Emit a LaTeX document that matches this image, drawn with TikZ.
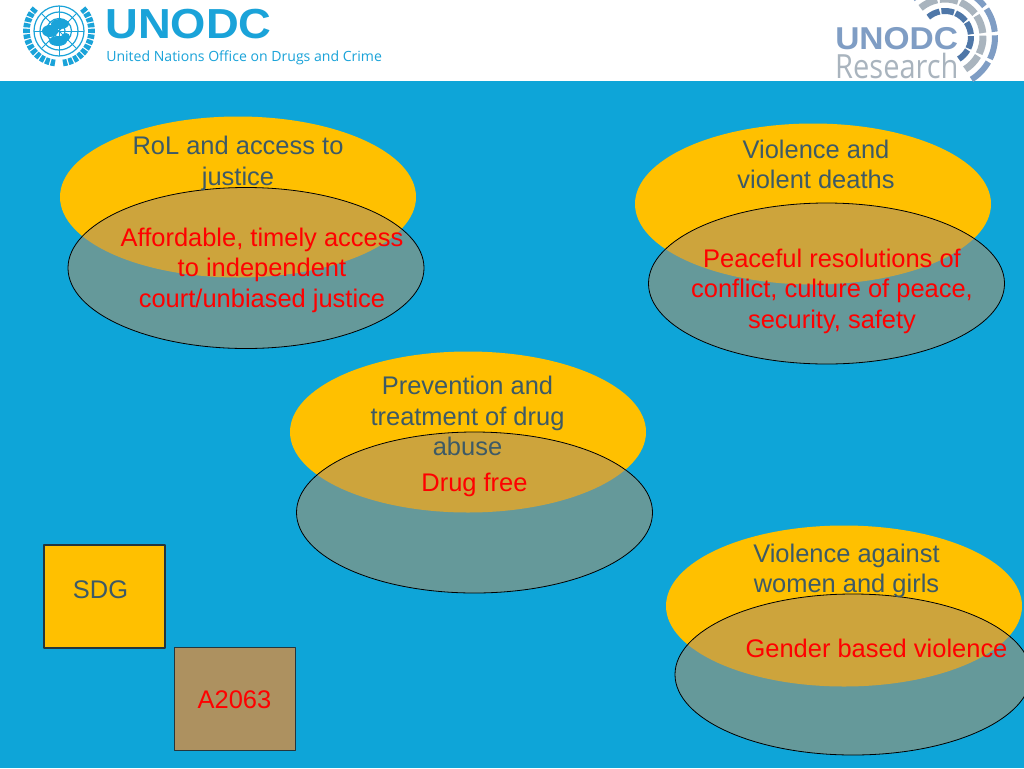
\documentclass[tikz,border=0pt]{standalone}
\usepackage{fontspec}
\setmainfont{Liberation Sans}
\newfontfamily\logofont{Open Sans}
\usetikzlibrary{shapes.geometric}
\definecolor{slideblue}{HTML}{0EA5D8}
\definecolor{sdgyellow}{HTML}{FFC000}
\definecolor{overlapgrey}{HTML}{A8906B}
\definecolor{boxbrown}{HTML}{AD9160}
\definecolor{textslate}{HTML}{3D5A66}
\definecolor{logoblue}{HTML}{1AA3D9}
\definecolor{resblue}{HTML}{7F9DC4}
\definecolor{resdark}{HTML}{4F77A8}
\definecolor{resgrey}{HTML}{A9B4BE}
\tikzset{
	goal/.style={ellipse,fill=sdgyellow,minimum width=356*0.75pt,minimum height=161*0.75pt,inner sep=0pt},
	target/.style={ellipse,draw=black,fill=overlapgrey,fill opacity=0.57,line width=0.6pt,minimum width=356*0.75pt,minimum height=161*0.75pt,inner sep=0pt},
	keybox/.style={rectangle,draw=textslate!60!black,line width=0.8pt,minimum width=121*0.75pt,minimum height=103*0.75pt,inner sep=0pt},
	goaltext/.style={text=textslate,align=center,font=\fontsize{19.1pt}{22.9pt}\selectfont,inner sep=0pt},
	targettext/.style={text=red,align=center,font=\fontsize{19.1pt}{22.9pt}\selectfont,inner sep=0pt}
}
\begin{document}
\begin{tikzpicture}[x=0.75pt,y=-0.75pt,line join=round]
	\useasboundingbox (0,0) rectangle (1024,768);
	% Background
	\fill[white] (0,0) rectangle (1024,81);
	\fill[slideblue] (0,81) rectangle (1024,768);
	% UN emblem
	\begin{scope}[logoblue]
		\foreach \r in {6,12.5,19,25} \draw[line width=0.9pt] (59,31) circle (\r);
		\foreach \a in {0,45,...,315} \draw[line width=0.7pt] (59,31) -- ++(\a:25);
		\fill (50,31) ellipse (8 and 6) (60,24) ellipse (9 and 5) (58,41) ellipse (9 and 5) (66,37) circle (4);
		\draw[line width=5pt,dash pattern=on 3.2pt off 1pt] (55,63) arc[start angle=97,end angle=225,radius=32.5];
		\draw[line width=5pt,dash pattern=on 3.2pt off 1pt] (63,63) arc[start angle=83,end angle=-45,radius=32.5];
	\end{scope}
	\node[text=logoblue,inner sep=0pt,anchor=base west,font=\fontsize{31.5pt}{32pt}\bfseries\selectfont,xscale=1.08] (unodc) at (105,38) {UNODC};
	\node[text=logoblue,inner sep=0pt,anchor=base west,font=\fontsize{10.55pt}{12pt}\logofont\selectfont] (unname) at (106,61) {United Nations Office on Drugs and Crime};
	% Research logo
	\foreach \r/\w/\c in {26/6/resdark,38/7/resgrey,50/6/resblue}
		\foreach \i in {1,...,6}
			\draw[\c,line width=\w*0.75pt] ({945+\r*cos(-58+(\i-1)*32)},{37-\r*sin(-58+(\i-1)*32)}) arc[start angle=58-(\i-1)*32,end angle=58-\i*32+4,radius=\r];
	\node[text=resblue,inner sep=0pt,anchor=base west,font=\fontsize{23.7pt}{24pt}\bfseries\selectfont,xscale=1.06] (resunodc) at (835,49) {UNODC};
	\node[text=resgrey,inner sep=0pt,anchor=base west,font=\fontsize{25pt}{26pt}\logofont\selectfont,xscale=0.87] (resword) at (835,78) {Research};
	% Ellipses
	\node[goal] (rol) at (238,197) {};
	\node[goal] (violence) at (813,204) {};
	\node[goal] (drug) at (468,432) {};
	\node[goal] (women) at (844,606) {};
	\node[target] (court) at (246,268) {};
	\node[target] (peace) at (826.5,283.5) {};
	\node[target] (free) at (474.5,512.5) {};
	\node[target] (gender) at (853,674.5) {};
	% Legend
	\node[keybox,fill=sdgyellow] (sdg) at (104.5,596.5) {};
	\node[keybox,fill=boxbrown] (agenda) at (235,699) {};
	% Labels
	\node[goaltext] (roltext) at (238,163.5) {RoL and access to\\justice};
	\node[goaltext] (violencetext) at (816,164.5) {Violence and\\violent deaths};
	\node[goaltext] (drugtext) at (467.5,416) {Prevention and\\treatment of drug\\abuse};
	\node[goaltext] (womentext) at (846.5,571) {Violence against\\women and girls};
	\node[goaltext] (sdgtext) at (100.5,590) {SDG};
	\node[targettext] (courttext) at (262,270) {Affordable, timely access\\to independent\\court/unbiased justice};
	\node[targettext] (peacetext) at (832,291) {Peaceful resolutions of\\conflict, culture of peace,\\security, safety};
	\node[targettext] (freetext) at (474.5,484.5) {Drug free};
	\node[targettext] (gendertext) at (876.5,648.5) {Gender based violence};
	\node[targettext] (agendatext) at (234.5,700) {A2063};
\end{tikzpicture}
\end{document}
